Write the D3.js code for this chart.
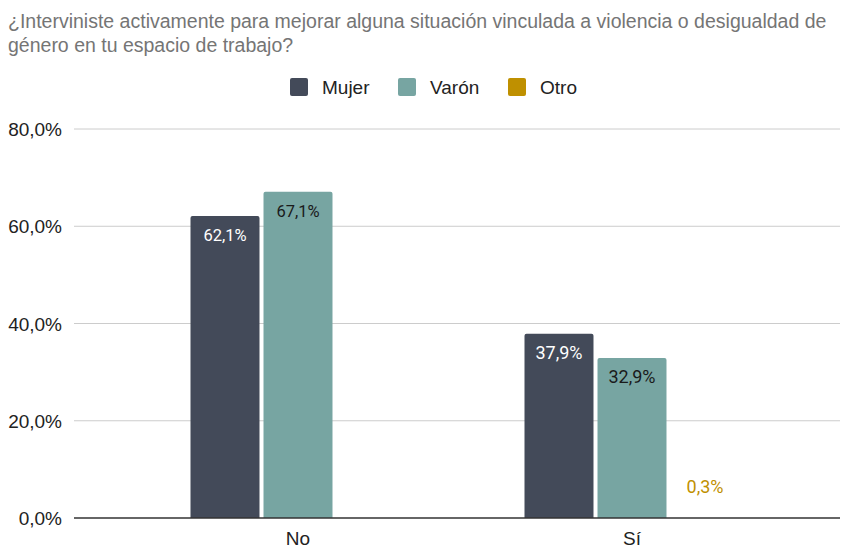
<!DOCTYPE html>
<html>
<head>
<meta charset="utf-8">
<script src="https://cdn.jsdelivr.net/npm/d3@7"></script>
<style>
  body { margin: 0; background: #fff; }
  svg { display: block; }
</style>
</head>
<body>
<div id="chart"></div>
<script>
var categories = ["No", "Sí"];
var seriesNames = ["Mujer", "Varón", "Otro"];
var mujerValues = [62.1, 37.9];
var varonValues = [67.1, 32.9];
var otroValues = [0, 0.3];
var yTicks = [0, 20, 40, 60, 80];
var colors = ["#434a59", "#77a5a2", "#bf9000"];
var labelColors = ["#ffffff", "#1a1a1a", "#bf9000"];

var width = 856, height = 548;
var margin = {top: 129, right: 16, bottom: 30, left: 74};
var plotW = width - margin.left - margin.right;
var plotH = height - margin.top - margin.bottom;
var font = "Liberation Sans, Arial, sans-serif";

var svg = d3.select("#chart").append("svg")
  .attr("width", width)
  .attr("height", height);

//title
var title = svg.append("text")
  .attr("font-family", font)
  .attr("font-size", 19.5)
  .attr("fill", "#757575");
title.append("tspan").attr("x", 8).attr("y", 28)
  .text("¿Interviniste activamente para mejorar alguna situación vinculada a violencia o desigualdad de");
title.append("tspan").attr("x", 8).attr("y", 52)
  .text("género en tu espacio de trabajo?");

//legend
var legendX = [290, 398, 508];
var legend = svg.append("g");
seriesNames.forEach(function(name, i) {
  legend.append("rect")
    .attr("x", legendX[i]).attr("y", 78)
    .attr("width", 18).attr("height", 18)
    .attr("rx", 2)
    .attr("fill", colors[i]);
  legend.append("text")
    .attr("x", legendX[i] + 32).attr("y", 94)
    .attr("font-family", font)
    .attr("font-size", 19)
    .attr("fill", "#222")
    .text(name);
});

var g = svg.append("g")
  .attr("transform", "translate(" + margin.left + "," + margin.top + ")");

var yScale = d3.scaleLinear().domain([0, 80]).range([plotH, 0]);
var xScale = d3.scaleBand().domain(categories).range([57, 725]).paddingInner(0).paddingOuter(0);
var innerScale = d3.scaleBand().domain(seriesNames)
  .range([(xScale.bandwidth() - 215) / 2, (xScale.bandwidth() + 215) / 2])
  .paddingInner(0.055);

//gridlines
g.selectAll("line.grid").data(yTicks.filter(function(d) { return d > 0; }))
  .enter().append("line")
  .attr("class", "grid")
  .attr("x1", 0).attr("x2", plotW)
  .attr("y1", function(d) { return yScale(d); })
  .attr("y2", function(d) { return yScale(d); })
  .attr("stroke", "#cccccc").attr("stroke-width", 1);

//y axis labels
g.selectAll("text.ylab").data(yTicks)
  .enter().append("text")
  .attr("class", "ylab")
  .attr("x", -12)
  .attr("y", function(d) { return yScale(d) + 7; })
  .attr("text-anchor", "end")
  .attr("font-family", font)
  .attr("font-size", 19)
  .attr("fill", "#222")
  .text(function(d) { return d.toFixed(1).replace(".", ",") + "%"; });

var seriesData = [mujerValues, varonValues, otroValues];
var fmt = function(v) { return v.toFixed(1).replace(".", ",") + "%"; };

categories.forEach(function(cat, ci) {
  var grp = g.append("g").attr("transform", "translate(" + xScale(cat) + ",0)");
  seriesNames.forEach(function(s, si) {
    var v = seriesData[si][ci];
    if (v <= 0) return;
    var x = innerScale(s), w = innerScale.bandwidth();
    var top = yScale(v);
    var h = plotH - top;
    var inside = h > 30;
    // tiny bars disappear under the baseline, only the label shows
    if (inside) {
      var r = 2;
      grp.append("path")
        .attr("d", "M" + x + "," + plotH + "V" + (top + r) + "Q" + x + "," + top + " " + (x + r) + "," + top +
          "H" + (x + w - r) + "Q" + (x + w) + "," + top + " " + (x + w) + "," + (top + r) + "V" + plotH + "Z")
        .attr("fill", colors[si]);
    }
    grp.append("text")
      .attr("x", x + w / 2)
      .attr("y", inside ? top + 25 : top - 24)
      .attr("text-anchor", "middle")
      .attr("font-family", "Roboto, sans-serif")
      .attr("font-size", inside ? (ci == 1 ? 18 : 16.5) : 18)
      .attr("fill", labelColors[si])
      .text(fmt(v));
  });
  grp.append("text")
    .attr("x", xScale.bandwidth() / 2)
    .attr("y", plotH + 27)
    .attr("text-anchor", "middle")
    .attr("font-family", font)
    .attr("font-size", 19)
    .attr("fill", "#222")
    .text(cat);
});

//baseline
g.append("line")
  .attr("x1", 0).attr("x2", plotW)
  .attr("y1", plotH).attr("y2", plotH)
  .attr("stroke", "#333333").attr("stroke-width", 1.5);
</script>
</body>
</html>
